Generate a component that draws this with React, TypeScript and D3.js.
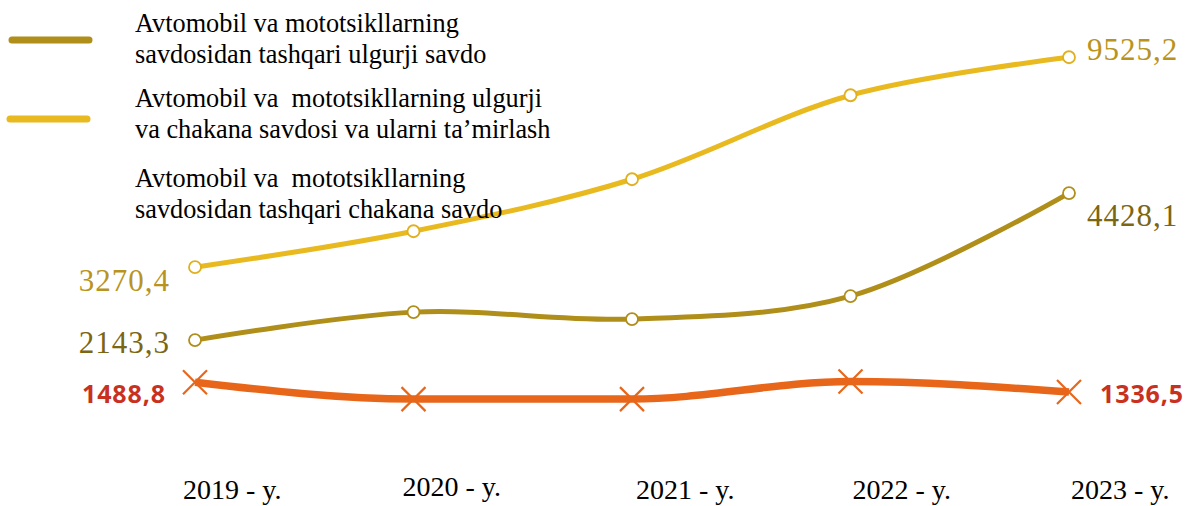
import React from "react";
import * as d3 from "d3";

const WIDTH = 1186;
const HEIGHT = 506;

// data
const years = ["2019", "2020", "2021", "2022", "2023"];
const yearLabels = ["2019 - y.", "2020 - y.", "2021 - y.", "2022 - y.", "2023 - y."];
const wholesaleValues = [2143.3, 2578, 2470, 2827, 4428.1]; // olive, left axis
const motorTradeValues = [3270.4, 4342, 5891, 8393, 9525.2]; // yellow, right axis
const retailValues = [1488.8, 1226, 1226, 1500, 1336.5]; // orange, left axis

const legendItems = [
  { color: "#B08E1A", lines: ["Avtomobil va mototsikllarning", "savdosidan tashqari ulgurji savdo"] },
  { color: "#E9B920", lines: ["Avtomobil va  mototsikllarning ulgurji", "va chakana savdosi va ularni ta’mirlash"] },
  { color: "#CC3A25", lines: ["Avtomobil va  mototsikllarning", "savdosidan tashqari chakana savdo"] },
];

const fmt = (v: number) => v.toFixed(1).replace(".", ",");

const SERIF = "'Liberation Serif', 'Times New Roman', Times, serif";

// label tweaks (per x position)
const LABEL_DX = [-12, -11, 4, 2, 2];
const LABEL_DY = [0, -3, 0, 0, 0];

// legend layout: [x1, x2, y, thickness], first text baseline
const LEGEND_SWATCH = [
  [9, 92, 40, 7],
  [7, 90, 119, 7],
  [15, 95, 197, 5],
];
const LEGEND_TOP = [32, 107, 187];

export default function App() {
  const x = d3.scalePoint<string>().domain(years).range([195, 1069]);
  const yLeft = d3.scaleLinear().domain([0, 7000]).range([478, 27.6]);
  const yRight = d3.scaleLinear().domain([0, 10000]).range([377, 41.3]);

  const path = (vals: number[], y: d3.ScaleLinear<number, number>, curve: d3.CurveFactory) =>
    d3
      .line<number>()
      .x((_, i) => x(years[i]) as number)
      .y((d) => y(d))
      .curve(curve)(vals) as string;

  const last = years.length - 1;

  return (
    <div style={{ position: "fixed", left: 0, top: 0 }}>
      <svg width={WIDTH} height={HEIGHT} style={{ display: "block", background: "#fff" }}>
        <defs>
          <filter id="sh" x="-20%" y="-100%" width="140%" height="400%">
            <feGaussianBlur in="SourceAlpha" stdDeviation="2" />
            <feOffset dy="4" result="b" />
            <feComponentTransfer>
              <feFuncA type="linear" slope="0.35" />
            </feComponentTransfer>
            <feMerge>
              <feMergeNode />
              <feMergeNode in="SourceGraphic" />
            </feMerge>
          </filter>
        </defs>

        {/* lines */}
        <path d={path(motorTradeValues, yRight, d3.curveCatmullRom.alpha(0.5))} fill="none" stroke="#E9B920" strokeWidth={5} />
        <path d={path(wholesaleValues, yLeft, d3.curveCatmullRom.alpha(0.5))} fill="none" stroke="#B08E1A" strokeWidth={5} />
        <path d={path(retailValues, yLeft, d3.curveMonotoneX)} fill="none" stroke="#E8661A" strokeWidth={7.5} />

        {/* markers */}
        {motorTradeValues.map((v, i) => (
          <circle key={"m" + i} cx={x(years[i])} cy={yRight(v)} r={6} fill="#fff" stroke="#E0B01E" strokeWidth={1.8} />
        ))}
        {wholesaleValues.map((v, i) => (
          <circle key={"w" + i} cx={x(years[i])} cy={yLeft(v)} r={6} fill="#fff" stroke="#B08E1A" strokeWidth={1.8} />
        ))}
        {retailValues.map((v, i) => {
          const cx = x(years[i]) as number;
          const cy = yLeft(v);
          const s = 12;
          return (
            <path
              key={"r" + i}
              d={`M${cx - s},${cy - s}L${cx + s},${cy + s}M${cx - s},${cy + s}L${cx + s},${cy - s}`}
              stroke="#E8661A"
              strokeWidth={2.2}
            />
          );
        })}

        {/* value labels */}
        <g style={{ fontFamily: SERIF, fontSize: 31, letterSpacing: 1 }}>
          <text x={(x(years[0]) as number) - 25} y={yRight(motorTradeValues[0]) + 24} textAnchor="end" fill="#B8941E">
            {fmt(motorTradeValues[0])}
          </text>
          <text x={(x(years[0]) as number) - 25} y={yLeft(wholesaleValues[0]) + 13} textAnchor="end" fill="#7B6614">
            {fmt(wholesaleValues[0])}
          </text>
          <text x={(x(years[last]) as number) + 18} y={yRight(motorTradeValues[last]) + 3} fill="#B8941E">
            {fmt(motorTradeValues[last])}
          </text>
          <text x={(x(years[last]) as number) + 18} y={yLeft(wholesaleValues[last]) + 33} fill="#7B6614">
            {fmt(wholesaleValues[last])}
          </text>
        </g>
        <g style={{ fontFamily: "'Open Sans', sans-serif", fontWeight: 700, fontSize: 25, letterSpacing: 0.9 }} fill="#C9311F">
          <text x={(x(years[0]) as number) - 29} y={yLeft(retailValues[0]) + 21} textAnchor="end">
            {fmt(retailValues[0])}
          </text>
          <text x={(x(years[last]) as number) + 31} y={yLeft(retailValues[last]) + 11}>
            {fmt(retailValues[last])}
          </text>
        </g>

        {/* x labels */}
        <g style={{ fontFamily: SERIF, fontSize: 28 }} fill="#000">
          {yearLabels.map((t, i) => (
            <text key={t} x={(x(years[i]) as number) + LABEL_DX[i]} y={499 + LABEL_DY[i]}>
              {t}
            </text>
          ))}
        </g>

        {/* legend */}
        <g style={{ fontFamily: SERIF, fontSize: 26.3 }} fill="#000">
          {legendItems.map((item, i) => {
            const sw = LEGEND_SWATCH[i];
            return (
              <g key={i}>
                <line
                  x1={sw[0] + 3}
                  x2={sw[1] - 3}
                  y1={sw[2]}
                  y2={sw[2]}
                  stroke={item.color}
                  strokeWidth={sw[3]}
                  strokeLinecap="round"
                  filter={i === 2 ? "url(#sh)" : undefined}
                />
                {item.lines.map((l, j) => (
                  <text key={j} x={135} y={LEGEND_TOP[i] + j * 31} style={{ whiteSpace: "pre" }}>
                    {l}
                  </text>
                ))}
              </g>
            );
          })}
        </g>
      </svg>
    </div>
  );
}
